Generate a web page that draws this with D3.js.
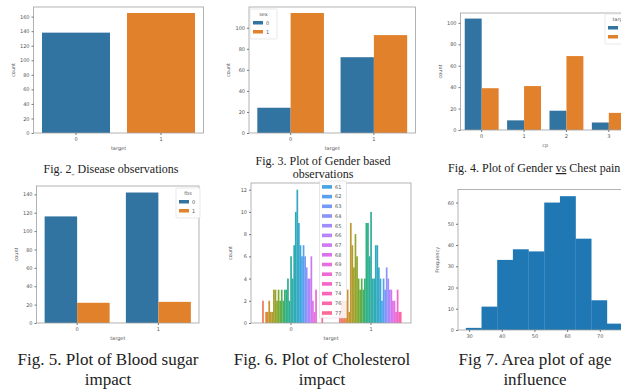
<!DOCTYPE html>
<html>
<head>
<meta charset="utf-8">
<script src="https://cdn.jsdelivr.net/npm/d3@7"></script>
<style>
html, body { margin: 0; padding: 0; background: #fff; }
svg { display: block; }
.tick text { font-family: "DejaVu Sans", sans-serif; font-size: 5px; fill: #555; }
.tick line { stroke: #777; }
.lbl { font-family: "DejaVu Sans", sans-serif; font-size: 5px; fill: #555; }
.cap { font-family: "Liberation Serif", "Times New Roman", serif; fill: #222; }
</style>
</head>
<body>
<svg id="chart" width="621" height="389"></svg>
<script>
// ---- data ----
const targetCats = ['0', '1']
const diseaseCounts = [138, 165]

const sexLevels = ['0', '1']
const sexFemaleCounts = [24, 72]
const sexMaleCounts = [114, 93]

const cpCats = ['0', '1', '2', '3']
const cpTarget0 = [104, 9, 18, 7]
const cpTarget1 = [39, 41, 69, 16]

const fbsLevels = ['0', '1']
const fbs0Counts = [116, 142]
const fbs1Counts = [22, 23]

const ages = [29, 34, 35, 37, 38, 39, 40, 41, 42, 43, 44, 45, 46, 47, 48, 49, 50, 51, 52, 53, 54,
    55, 56, 57, 58, 59, 60, 61, 62, 63, 64, 65, 66, 67, 68, 69, 70, 71, 74, 76, 77]
const ageTarget0 = [0, 0, 2, 0, 1, 1, 2, 1, 1, 3, 3, 2, 3, 2, 3, 2, 3, 3, 4, 2, 6,
    4, 7, 10, 12, 9, 7, 6, 7, 6, 5, 4, 4, 6, 2, 1, 3, 0, 0, 0, 1]
const ageTarget1 = [1, 2, 2, 2, 2, 3, 1, 9, 7, 5, 8, 6, 4, 3, 4, 3, 4, 9, 9, 6, 10,
    4, 4, 7, 7, 5, 4, 2, 4, 3, 5, 4, 3, 3, 2, 2, 1, 3, 1, 1, 0]

const histEdges = [29, 33.8, 38.6, 43.4, 48.2, 53, 57.8, 62.6, 67.4, 72.2, 77]
const histCounts = [1, 11, 33, 38, 37, 60, 63, 43, 14, 3]

const ticksFig2 = [0, 20, 40, 60, 80, 100, 120, 140, 160]
const ticksFig3 = [0, 20, 40, 60, 80, 100]
const ticksFig4 = [0, 20, 40, 60, 80, 100]
const ticksFig5 = [0, 20, 40, 60, 80, 100, 120, 140]
const ticksFig6 = [0, 2, 4, 6, 8, 10, 12]
const ticksFig7y = [0, 10, 20, 30, 40, 50, 60]
const ticksFig7x = [30, 40, 50, 60, 70]

// ---- style ----
const BLUE = '#3274a1'
const ORANGE = '#e1812c'
const HIST = '#1f77b4'
const HUSL = ['#f77189', '#dc8932', '#ae9d31', '#77ab31', '#33b07a', '#36ada4',
    '#38a9c5', '#6e9bf4', '#cc7af4', '#f565cc', '#f77189']
const huslAt = d3.piecewise(d3.interpolateHcl, HUSL)
const ageColor = i => huslAt(i / ages.length)

const TOP_CAP = 12
const BOTTOM_CAP = 17

const svg = d3.select('#chart')

function axesFrame(g, w, h) {
    g.append('rect')
        .attr('width', w).attr('height', h)
        .attr('fill', 'none')
        .attr('stroke', '#a0a0a0')
        .attr('stroke-width', 0.8)
}

function drawAxes(g, x, y, w, h, yTicks, xTicks, xLabel, yLabel) {
    const xa = d3.axisBottom(x).tickSize(2).tickPadding(2)
    if (xTicks) xa.tickValues(xTicks)
    g.append('g').attr('transform', `translate(0,${h})`).call(xa)
        .call(a => a.select('.domain').remove())
    g.append('g').call(d3.axisLeft(y).tickValues(yTicks).tickSize(2).tickPadding(2))
        .call(a => a.select('.domain').remove())
    if (xLabel) {
        g.append('text').attr('class', 'lbl')
            .attr('x', w / 2).attr('y', h + 17)
            .attr('text-anchor', 'middle')
            .text(xLabel)
    }
    g.append('text').attr('class', 'lbl')
        .attr('transform', `translate(-19,${h / 2}) rotate(-90)`)
        .attr('text-anchor', 'middle')
        .text(yLabel)
}

// seaborn style countplot: one array of counts per hue level
function countplot(box, cats, groups, colorOf, yTicks, xLabel) {
    const w = box.right - box.left
    const h = box.bottom - box.top
    const g = svg.append('g').attr('transform', `translate(${box.left},${box.top})`)

    const x = d3.scaleBand().domain(cats).range([0, w]).paddingInner(0.2).paddingOuter(0.1)
    const hue = d3.scaleBand().domain(d3.range(groups.length)).range([0, x.bandwidth()])
    const y = d3.scaleLinear().domain([0, d3.max(groups.flat()) * 1.05]).range([h, 0])

    groups.forEach((vals, k) => {
        g.append('g').selectAll('rect').data(vals).join('rect')
            .attr('x', (d, i) => x(cats[i]) + hue(k))
            .attr('y', d => y(d))
            .attr('width', hue.bandwidth() + (groups.length > 4 ? 0.15 : 0))
            .attr('height', d => h - y(d))
            .attr('fill', (d, i) => colorOf(k, i))
    })

    axesFrame(g, w, h)
    drawAxes(g, x, y, w, h, yTicks, null, xLabel, 'count')
    return g
}

function legend(x, y, w, title, labels, colors) {
    const g = svg.append('g').attr('transform', `translate(${x},${y})`)
    g.append('rect').attr('width', w).attr('height', 12 + labels.length * 9).attr('rx', 1.5)
        .attr('fill', '#fff').attr('stroke', '#d8d8d8').attr('stroke-width', 0.6)
    g.append('text').attr('class', 'lbl')
        .attr('x', w / 2).attr('y', 7).attr('text-anchor', 'middle')
        .text(title)
    labels.forEach((lab, i) => {
        g.append('rect').attr('x', 3).attr('y', 12 + i * 9)
            .attr('width', 10).attr('height', 3.5).attr('fill', colors[i])
        g.append('text').attr('class', 'lbl')
            .attr('x', 16).attr('y', 15.8 + i * 9)
            .text(lab)
    })
}

function caption(x, y, size, anchor, text) {
    svg.append('text').attr('class', 'cap')
        .attr('x', x).attr('y', y)
        .attr('font-size', size)
        .attr('text-anchor', anchor)
        .text(text)
}

// ---- Fig 2: disease observations ----
countplot({ left: 33.5, top: 7, right: 203.5, bottom: 133 },
    targetCats, [diseaseCounts], (k, i) => [BLUE, ORANGE][i], ticksFig2, 'target')
{
    const t = svg.append('text').attr('class', 'cap')
        .attr('x', 111).attr('y', 173).attr('font-size', TOP_CAP).attr('text-anchor', 'middle')
    t.append('tspan').text('Fig. 2')
    t.append('tspan').text(',,').attr('font-size', 6).attr('dy', 2)
    t.append('tspan').text(' Disease observations').attr('dy', -2)
}

// ---- Fig 3: gender ----
countplot({ left: 249, top: 7, right: 415.5, bottom: 133 },
    targetCats, [sexFemaleCounts, sexMaleCounts], k => [BLUE, ORANGE][k], ticksFig3, 'target')
legend(250, 9, 27, 'sex', sexLevels, [BLUE, ORANGE])
caption(323, 165, TOP_CAP, 'middle', 'Fig. 3. Plot of Gender based')
caption(323, 178, TOP_CAP, 'middle', 'observations')

// ---- Fig 4: chest pain ----
countplot({ left: 460.5, top: 13, right: 630, bottom: 130 },
    cpCats, [cpTarget0, cpTarget1], k => [BLUE, ORANGE][k], ticksFig4, 'cp')
legend(605, 14, 30, 'target', targetCats, [BLUE, ORANGE])
{
    const t = svg.append('text').attr('class', 'cap')
        .attr('x', 448).attr('y', 172).attr('font-size', TOP_CAP)
    t.append('tspan').text('Fig. 4. Plot of Gender ')
    t.append('tspan').text('vs').attr('text-decoration', 'underline')
    t.append('tspan').text(' Chest pain')
}

// ---- Fig 5: blood sugar ----
countplot({ left: 36.5, top: 186, right: 199, bottom: 323 },
    targetCats, [fbs0Counts, fbs1Counts], k => [BLUE, ORANGE][k], ticksFig5, 'target')
legend(176, 188, 24, 'fbs', fbsLevels, [BLUE, ORANGE])
caption(108, 365, BOTTOM_CAP, 'middle', 'Fig. 5. Plot of Blood sugar')
caption(108, 384.5, BOTTOM_CAP, 'middle', 'impact')

// ---- Fig 6: cholesterol (hue = age) ----
countplot({ left: 251, top: 183, right: 411, bottom: 323 },
    targetCats, ages.map((a, i) => [ageTarget0[i], ageTarget1[i]]), k => ageColor(k), ticksFig6, 'target')
{
    // legend runs off the top of the panel; only the lower entries show
    const step = 9.7
    const bottom = 318
    const top = 181
    const n = ages.length
    const lg = svg.append('g')
    lg.append('rect')
        .attr('x', 319.5).attr('y', top)
        .attr('width', 27).attr('height', bottom - top)
        .attr('fill', '#fff').attr('fill-opacity', 0.85)
        .attr('stroke', '#d8d8d8').attr('stroke-width', 0.6)
    ages.forEach((a, i) => {
        const cy = bottom - 5 - (n - 1 - i) * step
        if (cy < top + 4) return
        lg.append('rect').attr('x', 322).attr('y', cy - 1.8)
            .attr('width', 10).attr('height', 3.6).attr('fill', ageColor(i))
        lg.append('text').attr('class', 'lbl')
            .attr('x', 335).attr('y', cy + 1.8)
            .text(a)
    })
}
caption(322, 365, BOTTOM_CAP, 'middle', 'Fig. 6. Plot of Cholesterol')
caption(322, 384.5, BOTTOM_CAP, 'middle', 'impact')

// ---- Fig 7: age histogram ----
{
    const box = { left: 458, top: 189.5, right: 630.5, bottom: 330 }
    const w = box.right - box.left
    const h = box.bottom - box.top
    const g = svg.append('g').attr('transform', `translate(${box.left},${box.top})`)
    const lo = histEdges[0]
    const hi = histEdges[histEdges.length - 1]
    const pad = (hi - lo) * 0.05
    const x = d3.scaleLinear().domain([lo - pad, hi + pad]).range([0, w])
    const y = d3.scaleLinear().domain([0, d3.max(histCounts) * 1.05]).range([h, 0])

    g.selectAll('rect.bin').data(histCounts).join('rect')
        .attr('class', 'bin')
        .attr('x', (d, i) => x(histEdges[i]))
        .attr('y', d => y(d))
        .attr('width', (d, i) => x(histEdges[i + 1]) - x(histEdges[i]) + 0.2)
        .attr('height', d => h - y(d))
        .attr('fill', HIST)

    axesFrame(g, w, h)
    drawAxes(g, x, y, w, h, ticksFig7y, ticksFig7x, null, 'Frequency')
}
caption(535, 365, BOTTOM_CAP, 'middle', 'Fig 7. Area plot of age')
caption(535, 384.5, BOTTOM_CAP, 'middle', 'influence')
</script>
</body>
</html>
